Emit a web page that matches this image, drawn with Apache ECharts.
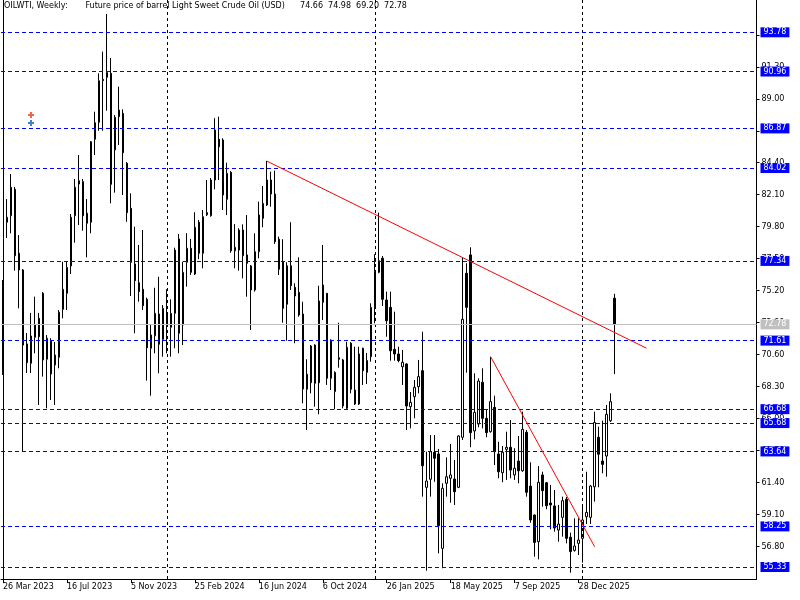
<!DOCTYPE html>
<html>
<head>
<meta charset="utf-8">
<script src="https://cdn.jsdelivr.net/npm/echarts@6.0.0/dist/echarts.min.js"></script>
<style>html,body{margin:0;padding:0;background:#fff;}#c{width:800px;height:600px;}</style>
</head>
<body>
<div id="c"></div>
<script>
// ---- data (weekly OILWTI candles) ----
const opens = [69.37,80.12,80.59,82.49,77.89,76.69,71.37,69.98,71.85,73.21,75.01,70.27,71.60,69.86,70.41,73.86,75.01,76.98,80.59,82.87,83.04,80.77,80.12,86.09,87.31,90.30,90.54,90.83,85.32,87.71,87.95,84.36,81.12,77.12,75.77,75.30,74.58,71.06,71.96,73.52,71.70,73.52,72.57,73.57,78.92,72.73,77.24,78.25,76.40,80.12,77.89,80.66,80.59,83.16,86.09,86.04,81.77,83.71,78.07,78.12,79.56,77.77,76.98,75.25,78.00,80.40,81.36,83.16,82.15,78.90,77.28,74.22,76.99,75.44,75.08,73.52,68.11,68.58,71.29,68.58,74.36,75.01,68.90,67.94,70.38,70.22,66.74,71.42,68.06,67.05,71.06,69.32,70.45,74.05,76.52,77.53,74.53,74.00,70.98,70.65,69.73,69.93,66.86,67.58,68.30,69.45,61.06,61.64,63.58,63.46,56.67,61.35,61.71,61.66,61.06,64.66,76.45,77.77,65.11,65.61,68.61,66.02,65.06,66.81,63.46,62.11,63.79,63.94,61.95,62.95,62.25,65.02,61.15,59.07,57.15,61.95,61.39,59.93,59.72,57.99,58.90,60.20,57.47,56.52,57.03,57.39,58.95,58.90,61.10,64.66,62.95,63.31,65.85,74.66];
const highs = [75.97,81.79,83.59,82.66,79.20,76.75,72.16,73.60,74.77,73.60,75.10,72.01,71.78,71.51,73.81,77.28,77.28,80.71,83.23,84.96,83.23,81.79,85.96,88.07,90.83,92.39,95.10,91.93,87.83,89.87,88.24,84.45,82.20,79.80,78.49,79.56,74.70,72.73,75.41,76.20,74.17,75.30,74.58,78.29,79.28,77.28,79.33,78.92,80.84,80.28,81.00,83.16,83.30,87.60,87.71,86.16,84.40,83.80,79.99,79.69,79.97,80.64,77.05,79.33,81.60,82.73,84.53,83.76,83.83,79.08,78.90,77.24,80.12,75.73,77.60,74.41,70.27,71.29,71.35,75.56,78.49,75.03,71.70,69.40,72.90,70.30,71.53,71.50,71.17,71.17,71.10,70.72,74.29,77.82,80.81,77.69,75.13,75.13,73.69,71.17,70.94,69.98,67.91,68.78,70.22,72.25,63.62,64.82,64.82,63.82,61.35,63.22,64.18,63.03,64.80,77.60,77.17,78.32,69.26,68.90,69.62,66.62,70.45,67.65,64.34,64.03,65.06,65.90,63.87,64.75,66.50,65.18,62.86,59.10,62.59,62.18,61.45,61.23,60.87,59.79,60.39,60.36,57.80,58.83,58.83,59.67,62.18,61.23,66.50,65.42,65.85,66.98,67.82,74.98];
const lows = [69.14,78.99,79.33,76.64,73.93,63.60,69.28,69.28,70.70,66.98,69.02,66.74,67.34,66.98,69.62,73.21,73.81,76.40,78.65,79.92,79.51,77.60,79.33,84.96,86.70,86.70,88.14,81.48,82.25,85.68,82.08,80.16,74.82,72.14,74.41,73.81,68.73,67.65,70.70,69.26,70.45,70.70,70.45,71.06,70.70,71.29,75.49,76.33,76.33,77.46,76.81,80.57,80.52,82.49,83.16,81.00,80.64,77.93,76.81,76.64,76.09,74.77,72.37,75.13,77.53,79.76,81.29,81.24,78.56,76.33,72.90,71.60,75.25,71.42,73.33,67.10,65.18,67.82,66.86,66.31,73.09,68.42,68.06,66.67,69.66,66.74,66.62,67.82,66.98,66.98,68.42,68.49,70.09,72.85,76.45,74.10,71.89,70.17,70.17,70.05,68.42,65.18,65.30,66.02,67.82,60.39,55.06,60.39,61.46,56.31,55.24,60.39,59.95,59.79,61.00,64.46,69.30,63.94,64.51,65.38,65.30,64.66,64.99,62.66,61.71,61.42,61.59,61.71,61.59,61.35,62.18,60.39,58.51,56.07,55.88,59.67,59.48,58.04,57.87,57.15,57.51,57.03,54.92,56.43,56.19,55.64,58.42,58.42,60.03,61.06,62.07,61.82,65.76,69.20];
const closes = [75.49,80.48,82.64,77.72,76.69,71.29,70.02,71.94,72.73,71.89,70.22,71.78,69.21,70.57,73.65,75.30,76.88,80.48,82.64,83.11,80.59,80.05,85.91,87.28,90.30,90.40,90.90,82.85,87.67,88.19,85.12,80.81,77.24,75.92,75.13,74.12,71.10,72.01,73.57,71.35,73.93,72.68,73.57,78.12,72.14,76.52,78.25,76.52,79.76,77.89,80.52,80.82,83.16,86.75,85.55,82.08,83.64,78.07,78.32,79.56,77.72,77.17,75.25,78.00,80.64,81.48,83.16,82.15,78.72,76.74,73.93,76.99,75.56,74.82,73.45,68.13,69.19,71.22,68.54,74.46,75.61,68.90,71.65,69.33,70.27,66.91,71.13,68.11,67.05,70.65,69.45,70.18,74.00,76.57,77.36,74.58,73.04,70.88,70.65,70.17,70.05,66.91,67.17,68.25,69.02,62.61,61.51,63.62,63.15,58.30,60.99,61.82,61.95,60.74,64.75,73.14,74.00,64.99,66.45,68.70,66.02,64.99,67.22,63.62,62.18,63.58,63.94,62.30,62.43,62.25,65.23,60.70,58.71,57.10,61.42,60.82,59.74,59.79,58.13,58.42,60.10,57.39,56.43,56.84,57.27,58.71,59.26,61.15,65.72,63.44,62.71,66.31,67.22,72.78];

const levelPrices = [93.78, 90.96, 86.87, 84.02, 77.34, 71.61, 66.68, 65.68, 63.64, 58.25, 55.33];
const lastPrice = 72.78;
const priceTicks = [56.80, 59.10, 61.40, 63.70, 66.00, 68.30, 70.60, 72.90, 75.20, 77.50, 79.80, 82.10, 84.40, 86.70, 89.00, 91.30, 93.60];
const trendLine1 = [[66, 84.52], [161, 71.06]];
const trendLine2 = [[122, 70.45], [148, 56.79]];
const separatorWeeks = [41, 93, 145];
const sellArrows = [[7, 87.83]];
const buyArrows = [[7, 87.26]];
const startDate = [2023, 2, 26];   // 26 Mar 2023
const totalSlots = 189;            // weeks shown incl. empty future space
const labelEvery = 16;
const lastLabelIndex = 144;
const titleSymbol = 'OILWTI, Weekly:';
const titleDesc = 'Future price of barrel Light Sweet Crude Oil (USD)';
const titleOHLC = ['74.66', '74.98', '69.20', '72.78'];

// ---- build ----
const MON = ['Jan','Feb','Mar','Apr','May','Jun','Jul','Aug','Sep','Oct','Nov','Dec'];
const categories = [];
for (let i = 0; i < totalSlots; i++) {
  const d = new Date(Date.UTC(startDate[0], startDate[1], startDate[2] + 7 * i));
  categories.push(d.getUTCDate() + ' ' + MON[d.getUTCMonth()] + ' ' + d.getUTCFullYear());
}
const candles = opens.map((o, i) => [o, closes[i], lows[i], highs[i]]);
const FONT = 'DejaVu Sans';
const title = titleSymbol + ' '.repeat(7) + titleDesc + ' '.repeat(6) + titleOHLC.join('  ');

const lvlLabel = (bg) => ({
  show: true, position: 'end', distance: 4,
  formatter: p => Number(p.value).toFixed(2),
  backgroundColor: bg, color: '#fff', padding: [1, 3, 0, 3],
  fontSize: 8, fontFamily: FONT, lineHeight: 9
});

const plusPath = 'path://M2,0 L4,0 L4,2 L6,2 L6,4 L4,4 L4,6 L2,6 L2,4 L0,4 L0,2 L2,2 Z';

const chart = echarts.init(document.getElementById('c'), null, { renderer: 'canvas' });
chart.setOption({
  animation: false,
  backgroundColor: '#fff',
  title: { text: title, left: 4, top: 2, padding: 0,
    textStyle: { fontSize: 8, fontWeight: 'normal', fontFamily: FONT, color: '#000' } },
  grid: { left: 0.5, right: 43.5, top: 0, bottom: 21, show: false },
  xAxis: {
    type: 'category', data: categories, boundaryGap: true,
    axisLine: { show: true, lineStyle: { color: '#000', width: 1 } },
    axisTick: { show: true, alignWithLabel: true, length: 4, lineStyle: { color: '#000' },
      interval: (i) => i % labelEvery === 0 && i <= lastLabelIndex },
    axisLabel: { show: true, align: 'left', margin: 4, color: '#000', fontSize: 8, fontFamily: FONT,
      interval: (i) => i % labelEvery === 0 && i <= lastLabelIndex },
    splitLine: { show: false }
  },
  yAxis: {
    type: 'value', position: 'right', min: 54.467, max: 96.103, scale: true,
    axisLine: { show: true, lineStyle: { color: '#000', width: 1 } },
    axisTick: { show: true, length: 3, lineStyle: { color: '#000' }, customValues: priceTicks },
    axisLabel: { show: true, margin: 5, color: '#000', fontSize: 8, fontFamily: FONT,
      customValues: priceTicks, formatter: v => Number(v).toFixed(2) },
    splitLine: { show: false }
  },
  series: [
    { // period separators + left frame
      type: 'line', data: [], silent: true, z: 1,
      markLine: { symbol: ['none', 'none'], silent: true, animation: false, label: { show: false },
        lineStyle: { color: '#000000', type: [3, 3], width: 1 },
        data: separatorWeeks.map(w => ({ xAxis: categories[w] })).concat([{ xAxis: categories[0], lineStyle: { type: 'solid' } }]) }
    },
    { // current price
      type: 'line', data: [], silent: true, z: 1,
      markLine: { symbol: ['none', 'none'], silent: true, animation: false,
        lineStyle: { color: '#c0c0c0', type: 'solid', width: 1 }, label: lvlLabel('#c0c0c0'),
        data: [{ yAxis: lastPrice }] }
    },
    {
      type: 'candlestick', data: candles, barWidth: 2, z: 2,
      itemStyle: { color: '#ffffff', color0: '#000000', borderColor: '#000000', borderColor0: '#000000', borderWidth: 1 }
    },
    { // horizontal levels
      type: 'line', data: [], silent: true, z: 3,
      markLine: { symbol: ['none', 'none'], silent: true, animation: false,
        lineStyle: { color: '#0000ff', type: [4, 3], width: 1 }, label: lvlLabel('#0000ff'),
        data: levelPrices.map(v => ({ yAxis: v })) }
    },
    { // trend lines
      type: 'line', data: [], silent: true, z: 4,
      markLine: { symbol: ['none', 'none'], silent: true, animation: false, label: { show: false },
        lineStyle: { color: '#ff0000', type: 'solid', width: 1 },
        data: [trendLine1, trendLine2].map(t => [
          { coord: [categories[t[0][0]], t[0][1]] }, { coord: [categories[t[1][0]], t[1][1]] }]) }
    },
    {
      type: 'scatter', symbol: plusPath, symbolSize: 6, z: 5, itemStyle: { color: '#e8401c' },
      data: sellArrows.map(a => [categories[a[0]], a[1]])
    },
    {
      type: 'scatter', symbol: plusPath, symbolSize: 6, z: 5, itemStyle: { color: '#1060c0' },
      data: buyArrows.map(a => [categories[a[0]], a[1]])
    }
  ]
});
</script>
</body>
</html>
